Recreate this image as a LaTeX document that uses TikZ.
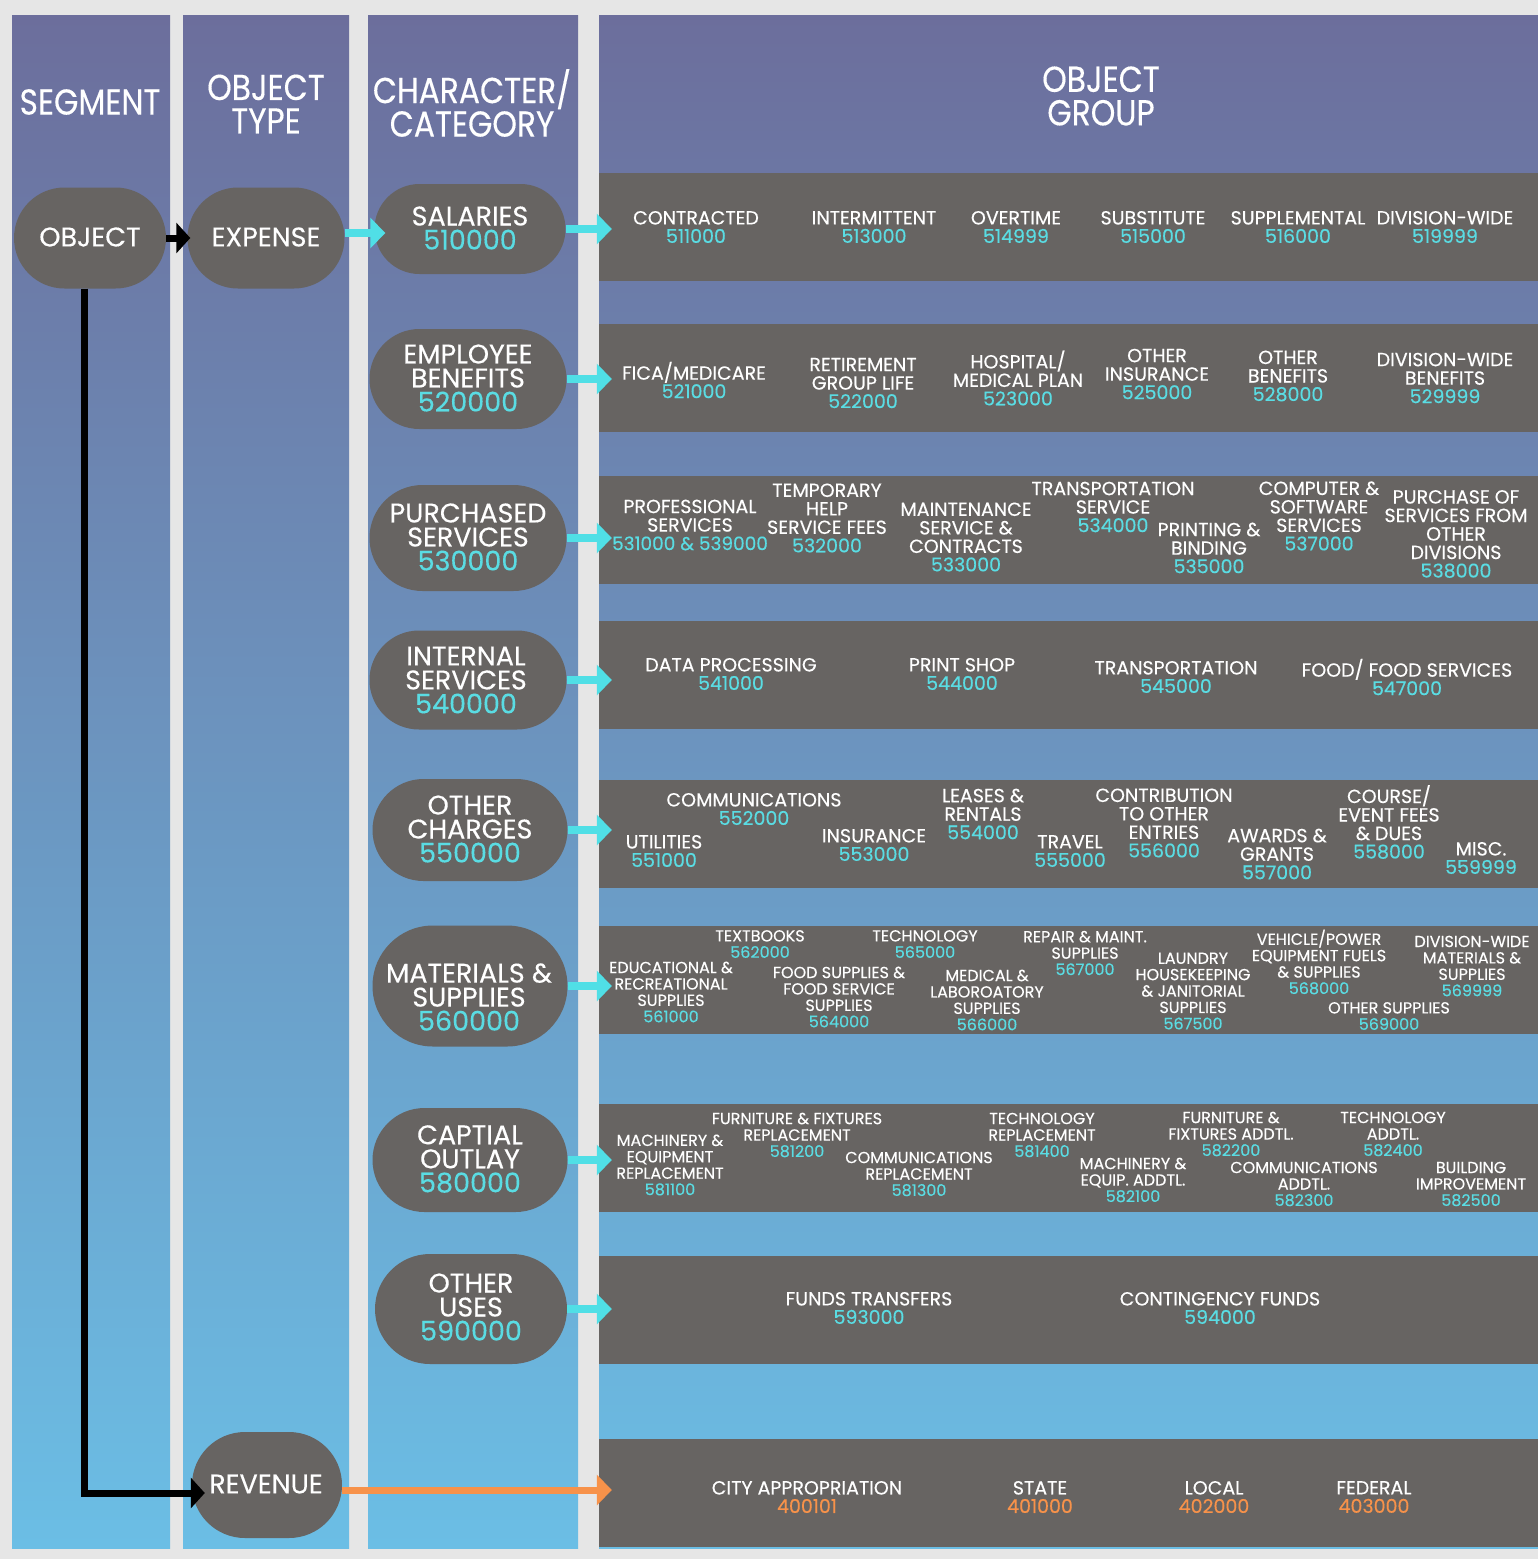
\documentclass[tikz,border=0pt]{standalone}
\usepackage{fontspec}
\setmainfont[FakeBold=0.3]{Poppins}
\newfontfamily\hdfam[FakeStretch=0.87,FakeBold=0.3]{Poppins}
\usetikzlibrary{shapes.misc,arrows.meta,calc}
\definecolor{bgc}{HTML}{E6E6E6}
\definecolor{gtop}{HTML}{6C6E9C}
\definecolor{gbot}{HTML}{6BBEE5}
\definecolor{pgray}{HTML}{676462}
\definecolor{ncyan}{HTML}{5ADCE3}
\definecolor{acyan}{HTML}{50DFE6}
\definecolor{aorange}{HTML}{F7924A}
\newcommand\hdfont{\hdfam\fontsize{36}{33.5}\selectfont}
\newcommand\pillfont{\fontsize{27}{24}\selectfont}
\newcommand\itfont{\fontsize{19}{18.5}\selectfont}
\newcommand\itsfont{\fontsize{16}{16.4}\selectfont}
\newcommand\numc[1]{\textcolor{ncyan}{#1}}
\newcommand\numo[1]{\textcolor{aorange}{#1}}
\tikzset{
  colbg/.style={top color=gtop, bottom color=gbot, draw=none},
  pill/.style={shape=rounded rectangle, fill=pgray, inner sep=0pt},
  pilltxt/.style={text=white, align=center, inner sep=0pt, font=\pillfont},
  band/.style={fill=pgray, inner sep=0pt, minimum width=939pt, minimum height=108pt},
  it/.style={text=white, align=center, inner sep=0pt, font=\itfont},
  its/.style={text=white, align=center, inner sep=0pt, font=\itsfont},
  hd/.style={text=white, align=center, inner sep=0pt, font=\hdfont},
  carrow/.style={draw=acyan, line width=8pt, -{Triangle[length=15pt,width=30pt]}},
  oarrow/.style={draw=aorange, line width=7pt, -{Triangle[length=15pt,width=30pt]}},
  barrow/.style={draw=black, line width=7pt, -{Triangle[length=14pt,width=30pt]}}
}
\begin{document}
\begin{tikzpicture}[x=1pt,y=-1pt]
\fill[bgc] (0,0) rectangle (1538,1559);
\useasboundingbox (0,0) rectangle (1538,1559);
% columns
\shade[colbg] (12,15) rectangle (170,1548);
\shade[colbg] (183,15) rectangle (349,1548);
\shade[colbg] (368,15) rectangle (578,1548);
\shade[colbg] (599,15) rectangle (1538,1548);
% headers
\node[hd] (h1) at (90,102) {SEGMENT};
\node[hd] (h2) at (266,104) {OBJECT\\TYPE};
\node[hd] (h3) at (472,103) {CHARACTER/\\CATEGORY};
\node[hd] (h4) at (1101,96) {OBJECT\\GROUP};
% bands
\node[band] (b1) at (1068.5,227) {};
\node[band] (b2) at (1068.5,377.5) {};
\node[band] (b3) at (1068.5,529.5) {};
\node[band] (b4) at (1068.5,675) {};
\node[band] (b5) at (1068.5,833.5) {};
\node[band] (b6) at (1068.5,980) {};
\node[band] (b7) at (1068.5,1158) {};
\node[band] (b8) at (1068.5,1310) {};
\node[band] (b9) at (1068.5,1493) {};
% pills
\node[pill, minimum width=152pt, minimum height=101pt] (obj) at (90,238) {};
\node[pill, minimum width=157pt, minimum height=101pt] (exp) at (266,238) {};
\node[pill, minimum width=150pt, minimum height=106pt] (rev) at (267,1485) {};
\node[pill, minimum width=191pt, minimum height=90pt] (sal) at (470,229) {};
\node[pill, minimum width=197pt, minimum height=100pt] (emp) at (468,379) {};
\node[pill, minimum width=197pt, minimum height=106pt] (pur) at (468,538) {};
\node[pill, minimum width=197pt, minimum height=99pt] (int) at (468,680) {};
\node[pill, minimum width=195pt, minimum height=102pt] (oth) at (470,830) {};
\node[pill, minimum width=195pt, minimum height=121pt] (mat) at (470,986) {};
\node[pill, minimum width=195pt, minimum height=104pt] (cap) at (470,1160) {};
\node[pill, minimum width=192pt, minimum height=110pt] (use) at (471,1309) {};
% pill texts
\node[pilltxt] (tobj) at (90,237) {OBJECT};
\node[pilltxt] (texp) at (266,237) {EXPENSE};
\node[pilltxt] (trev) at (266,1484) {REVENUE};
\node[pilltxt] (tsal) at (470,228) {SALARIES\\\numc{510000}};
\node[pilltxt] (temp) at (468,378) {EMPLOYEE\\BENEFITS\\\numc{520000}};
\node[pilltxt] (tpur) at (468,537) {PURCHASED\\SERVICES\\\numc{530000}};
\node[pilltxt] (tint) at (466,680) {INTERNAL\\SERVICES\\\numc{540000}};
\node[pilltxt] (toth) at (470,829) {OTHER\\CHARGES\\\numc{550000}};
\node[pilltxt] (tmat) at (469,997) {MATERIALS \&\\SUPPLIES\\\numc{560000}};
\node[pilltxt] (tcap) at (470,1159) {CAPTIAL\\OUTLAY\\\numc{580000}};
\node[pilltxt] (tuse) at (471,1307) {OTHER\\USES\\\numc{590000}};
% connectors
\draw[barrow] (obj.east) -- ($(exp.west)+(3pt,0)$);
\draw[barrow] ($(obj.south)+(-6pt,0)$) |- ($(rev.west)+(13pt,-8pt)$);
\draw[carrow] ($(exp.east)+(0,5pt)$) -- ($(exp.east -| sal.west)+(11pt,5pt)$);
\draw[carrow] (sal.east) -- ($(sal.east -| b1.west)+(13pt,0)$);
\draw[carrow] (emp.east) -- ($(emp.east -| b2.west)+(13pt,0)$);
\draw[carrow] (pur.east) -- ($(pur.east -| b3.west)+(13pt,0)$);
\draw[carrow] (int.east) -- ($(int.east -| b4.west)+(13pt,0)$);
\draw[carrow] (oth.east) -- ($(oth.east -| b5.west)+(13pt,0)$);
\draw[carrow] (mat.east) -- ($(mat.east -| b6.west)+(13pt,0)$);
\draw[carrow] (cap.east) -- ($(cap.east -| b7.west)+(13pt,0)$);
\draw[carrow] (use.east) -- ($(use.east -| b8.west)+(13pt,0)$);
\draw[oarrow] ($(rev.east)+(0,-5pt)$) -- ($(rev.east -| b9.west)+(13pt,-5pt)$);
% band 1
\node[it] (g11) at (696,227) {CONTRACTED\\\numc{511000}};
\node[it] (g12) at (874,227) {INTERMITTENT\\\numc{513000}};
\node[it] (g13) at (1016,227) {OVERTIME\\\numc{514999}};
\node[it] (g14) at (1153,227) {SUBSTITUTE\\\numc{515000}};
\node[it] (g15) at (1298,227) {SUPPLEMENTAL\\\numc{516000}};
\node[it] (g16) at (1445,227) {DIVISION-WIDE\\\numc{519999}};
% band 2
\node[it] (g21) at (694,380) {FICA/MEDICARE\\\numc{521000}};
\node[it] (g22) at (863,383) {RETIREMENT\\GROUP LIFE\\\numc{522000}};
\node[it] (g23) at (1018,378) {HOSPITAL/\\MEDICAL PLAN\\\numc{523000}};
\node[it] (g24) at (1157,374) {OTHER\\INSURANCE\\\numc{525000}};
\node[it] (g25) at (1288,376) {OTHER\\BENEFITS\\\numc{528000}};
\node[it] (g26) at (1445,378) {DIVISION-WIDE\\BENEFITS\\\numc{529999}};
% band 3
\node[it] (g31) at (690,525) {PROFESSIONAL\\SERVICES\\\numc{\fontsize{18.5}{18.5}\selectfont 531000 \& 539000}};
\node[it] (g32) at (827,518) {TEMPORARY\\HELP\\SERVICE FEES\\\numc{532000}};
\node[it] (g33) at (966,537) {MAINTENANCE\\SERVICE \&\\CONTRACTS\\\numc{533000}};
\node[it] (g34) at (1113,507) {TRANSPORTATION\\SERVICE\\\numc{534000}};
\node[it] (g35) at (1209,548) {PRINTING \&\\BINDING\\\numc{535000}};
\node[it] (g36) at (1319,516) {COMPUTER \&\\SOFTWARE\\SERVICES\\\numc{537000}};
\node[it] (g37) at (1456,534) {PURCHASE OF\\SERVICES FROM\\OTHER\\DIVISIONS\\\numc{538000}};
% band 4
\node[it] (g41) at (731,674) {DATA PROCESSING\\\numc{541000}};
\node[it] (g42) at (962,674) {PRINT SHOP\\\numc{544000}};
\node[it] (g43) at (1176,677) {TRANSPORTATION\\\numc{545000}};
\node[it] (g44) at (1407,677) {FOOD/ FOOD SERVICES\\\numc{547000}};
% band 5
\node[it] (g51) at (754,809) {COMMUNICATIONS\\\numc{552000}};
\node[it] (g52) at (664,851) {UTILITIES\\\numc{551000}};
\node[it] (g53) at (874,845) {INSURANCE\\\numc{553000}};
\node[it] (g54) at (983,814) {LEASES \&\\RENTALS\\\numc{554000}};
\node[it] (g55) at (1070,851) {TRAVEL\\\numc{555000}};
\node[it] (g56) at (1164,823) {CONTRIBUTION\\TO OTHER\\ENTRIES\\\numc{556000}};
\node[it] (g57) at (1277,854) {AWARDS \&\\GRANTS\\\numc{557000}};
\node[it] (g58) at (1389,822) {COURSE/\\EVENT FEES\\\& DUES\\\numc{558000}};
\node[it] (g59) at (1481,858) {MISC.\\\numc{559999}};
% band 6
\node[its] (g61) at (760,944) {TEXTBOOKS\\\numc{562000}};
\node[its] (g62) at (925,944) {TECHNOLOGY\\\numc{565000}};
\node[its] (g63) at (1085,953) {REPAIR \& MAINT.\\SUPPLIES\\\numc{567000}};
\node[its] (g64) at (671,992) {EDUCATIONAL \&\\RECREATIONAL\\SUPPLIES\\\numc{561000}};
\node[its] (g65) at (839,997) {FOOD SUPPLIES \&\\FOOD SERVICE\\SUPPLIES\\\numc{564000}};
\node[its] (g66) at (987,1000) {MEDICAL \&\\LABOROATORY\\SUPPLIES\\\numc{566000}};
\node[its] (g67) at (1193,991) {LAUNDRY\\HOUSEKEEPING\\\& JANITORIAL\\SUPPLIES\\\numc{567500}};
\node[its] (g68) at (1319,962) {VEHICLE/POWER\\EQUIPMENT FUELS\\\& SUPPLIES\\\numc{568000}};
\node[its] (g69) at (1472,966) {DIVISION-WIDE\\MATERIALS \&\\SUPPLIES\\\numc{569999}};
\node[its] (g60) at (1389,1016) {OTHER SUPPLIES\\\numc{569000}};
% band 7
\node[its] (g71) at (797,1135) {FURNITURE \& FIXTURES\\REPLACEMENT\\\numc{581200}};
\node[its] (g72) at (670,1165) {MACHINERY \&\\EQUIPMENT\\REPLACEMENT\\\numc{581100}};
\node[its] (g73) at (919,1174) {COMMUNICATIONS\\REPLACEMENT\\\numc{581300}};
\node[its] (g74) at (1042,1135) {TECHNOLOGY\\REPLACEMENT\\\numc{581400}};
\node[its] (g75) at (1133,1180) {MACHINERY \&\\EQUIP. ADDTL.\\\numc{582100}};
\node[its] (g76) at (1231,1134) {FURNITURE \&\\FIXTURES ADDTL.\\\numc{582200}};
\node[its] (g77) at (1304,1184) {COMMUNICATIONS\\ADDTL.\\\numc{582300}};
\node[its] (g78) at (1393,1134) {TECHNOLOGY\\ADDTL.\\\numc{582400}};
\node[its] (g79) at (1471,1184) {BUILDING\\IMPROVEMENT\\\numc{582500}};
% band 8
\node[it] (g81) at (869,1308) {FUNDS TRANSFERS\\\numc{593000}};
\node[it] (g82) at (1220,1308) {CONTINGENCY FUNDS\\\numc{594000}};
% band 9
\node[it] (g91) at (807,1497) {CITY APPROPRIATION\\\numo{400101}};
\node[it] (g92) at (1040,1497) {STATE\\\numo{401000}};
\node[it] (g93) at (1214,1497) {LOCAL\\\numo{402000}};
\node[it] (g94) at (1374,1497) {FEDERAL\\\numo{403000}};
\end{tikzpicture}
\end{document}
